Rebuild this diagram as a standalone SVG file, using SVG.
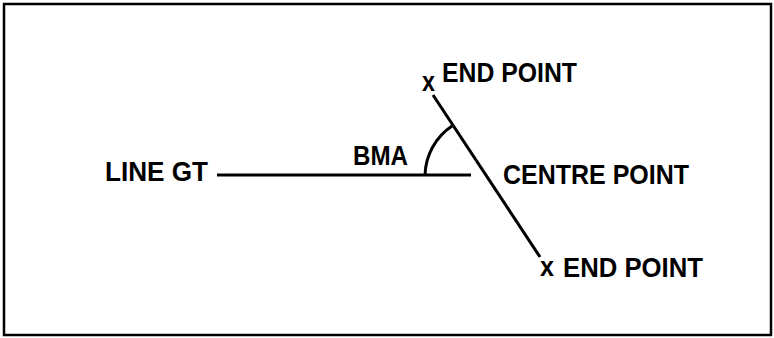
<svg xmlns="http://www.w3.org/2000/svg" width="774" height="338" viewBox="0 0 774 338">
<style>
.t{font-family:"Liberation Sans",Arial,sans-serif;font-weight:bold;font-size:28px;fill:#000}
.s{font-size:27px}
.ln{stroke:#000;stroke-width:3;fill:none}
</style>
<rect x="0" y="0" width="774" height="338" fill="#fff"/>
<rect x="4" y="4" width="767" height="331" fill="none" stroke="#000" stroke-width="2.5"/>
<g id="connectors">
<line class="ln" x1="217" y1="175" x2="471" y2="175"/>
<line class="ln" x1="433" y1="95" x2="540" y2="257"/>
<path class="ln" d="M425,175 A61,61 0 0 1 452,126"/>
</g>
<g id="line-gt"><text class="t" x="105" y="180.5" textLength="103" lengthAdjust="spacingAndGlyphs">LINE GT</text></g>
<g id="bma"><text class="t s" x="353" y="165" textLength="55" lengthAdjust="spacingAndGlyphs">BMA</text></g>
<g id="centre-point"><text class="t" x="503" y="184" textLength="186" lengthAdjust="spacingAndGlyphs">CENTRE POINT</text></g>
<g id="end-point-top">
<text class="t s" x="422" y="91" textLength="13" lengthAdjust="spacingAndGlyphs">x</text>
<text class="t s" x="442" y="82" textLength="135" lengthAdjust="spacingAndGlyphs">END POINT</text>
</g>
<g id="end-point-bottom">
<text class="t s" x="540" y="276" textLength="14" lengthAdjust="spacingAndGlyphs">x</text>
<text class="t s" x="563" y="276.5" textLength="140" lengthAdjust="spacingAndGlyphs">END POINT</text>
</g>
</svg>
